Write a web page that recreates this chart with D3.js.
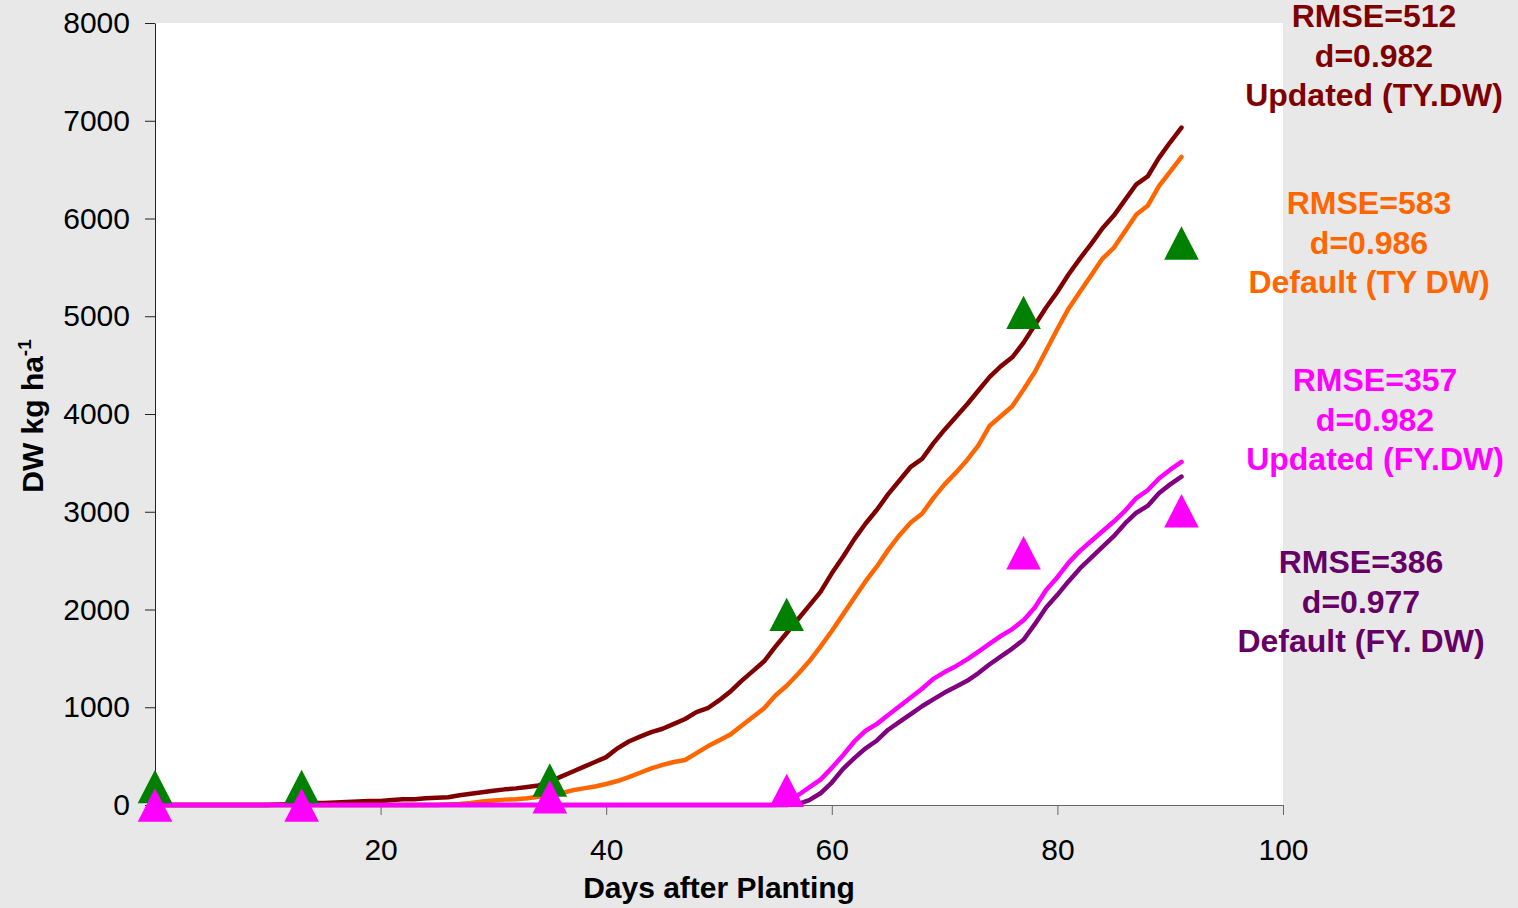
<!DOCTYPE html>
<html>
<head>
  <style>
  body {
    margin: 0;
    background: #e8e8e8;
    font-family: "Liberation Sans", Arial, sans-serif;
  }
  .axis text {
    font-size: 30px;
    fill: #000;
  }
  .title {
    font-size: 30px;
    font-weight: bold;
  }
  .note text {
    font-size: 32px;
    font-weight: bold;
    text-anchor: middle;
  }
  </style>
</head>
<body>
  <div id="chart"></div>
  <script src="https://d3js.org/d3.v7.min.js"></script>
  <script>
  // simulated dry weight, one value per day (day 0 .. 91)
  var days = d3.range(0, 92);

  var updatedTY = [0,0,0,0,0,0,0,0,0,0, 0,5,10,15,20,20,25,30,35,40,
    40,50,60,60,70,75,80,100,115,130, 145,160,170,185,200,240,290,340,390,440,
    490,580,650,700,745,780,830,880,950,990, 1070,1160,1270,1370,1470,1620,1760,1900,2040,2180,
    2370,2540,2720,2880,3020,3180,3320,3460,3540,3700, 3840,3970,4100,4240,4380,4490,4580,4730,4910,5090,
    5250,5430,5590,5740,5900,6030,6190,6350,6430,6620, 6780,6930];

  var defaultTY = [0,0,0,0,0,0,0,0,0,0, 0,0,0,0,0,0,0,0,0,0,
    0,0,0,0,0,0,5,10,20,35, 45,55,60,70,85,100,120,150,170,190,
    215,245,285,330,375,410,440,460,530,600, 660,720,810,900,990,1120,1220,1340,1470,1620,
    1780,1950,2120,2290,2440,2610,2760,2890,2980,3140, 3280,3400,3530,3680,3880,3980,4080,4250,4430,4650,
    4870,5080,5250,5420,5590,5700,5870,6040,6130,6330, 6480,6630];

  var updatedFY = [0,0,0,0,0,0,0,0,0,0, 0,0,0,0,0,0,0,0,0,0,
    0,0,0,0,0,0,0,0,0,0, 0,0,0,0,0,0,0,0,0,0,
    0,0,0,0,0,0,0,0,0,0, 0,0,0,0,0,0,20,100,180,260,
    380,510,650,760,830,920,1010,1100,1190,1290, 1360,1420,1490,1570,1650,1730,1800,1890,2020,2200,
    2330,2480,2600,2700,2800,2900,3010,3140,3220,3340, 3430,3510];

  var defaultFY = [0,0,0,0,0,0,0,0,0,0, 0,0,0,0,0,0,0,0,0,0,
    0,0,0,0,0,0,0,0,0,0, 0,0,0,0,0,0,0,0,0,0,
    0,0,0,0,0,0,0,0,0,0, 0,0,0,0,0,0,0,10,50,120,
    230,370,480,580,660,770,850,930,1010,1080, 1150,1210,1270,1350,1440,1520,1600,1690,1850,2020,
    2150,2290,2420,2530,2640,2750,2880,2990,3060,3190, 3280,3360];

  // observations
  var obsDays = [0, 13, 35, 56, 77, 91];
  var obsTY = [190, 190, 255, 1950, 5040, 5750];
  var obsFY = [0, 0, 85, 150, 2580, 3010];

  var yTicks = [0, 1000, 2000, 3000, 4000, 5000, 6000, 7000, 8000];
  var xTicks = [20, 40, 60, 80, 100];

  var notes = [
    {lines: ["RMSE=512", "d=0.982", "Updated (TY.DW)"], color: "#800000", cx: 1374, y: 27},
    {lines: ["RMSE=583", "d=0.986", "Default (TY DW)"], color: "#ff6600", cx: 1369, y: 214},
    {lines: ["RMSE=357", "d=0.982", "Updated (FY.DW)"], color: "#ff00ff", cx: 1375, y: 391},
    {lines: ["RMSE=386", "d=0.977", "Default (FY. DW)"], color: "#660066", cx: 1361, y: 573}
  ];

  var W = 1518, H = 908;
  var margin = {top: 23, right: 235, bottom: 103, left: 155};

  var svg = d3.select("#chart").append("svg")
      .attr("width", W)
      .attr("height", H);

  var x = d3.scaleLinear().domain([0, 100]).range([margin.left, W - margin.right]);
  var y = d3.scaleLinear().domain([0, 8000]).range([H - margin.bottom, margin.top]);

  svg.append("rect")
      .attr("x", x(0))
      .attr("y", y(8000))
      .attr("width", x(100) - x(0))
      .attr("height", y(0) - y(8000))
      .attr("fill", "#fff");

  var yAxis = svg.append("g")
      .attr("class", "axis")
      .attr("transform", "translate(" + x(0) + ",0)")
      .call(d3.axisLeft(y).tickValues(yTicks).tickFormat(d3.format("d"))
        .tickSize(10).tickSizeOuter(0).tickPadding(15));
  yAxis.selectAll("line, path").attr("stroke", "#222");

  var xAxis = svg.append("g")
      .attr("class", "axis")
      .attr("transform", "translate(0," + y(0) + ")")
      .call(d3.axisBottom(x).tickValues(xTicks).tickFormat(d3.format("d"))
        .tickSize(10).tickSizeOuter(0).tickPadding(24));
  xAxis.selectAll("line, path").attr("stroke", "#666");

  var line = d3.line()
      .x(function(d, i){ return x(days[i]); })
      .y(function(d){ return y(d); });

  var series = [
    {values: updatedTY, color: "#800000"},
    {values: defaultTY, color: "#ff6600"},
    {values: defaultFY, color: "#800080"},
    {values: updatedFY, color: "#ff00ff"}
  ];

  svg.selectAll("path.series")
      .data(series)
    .enter().append("path")
      .attr("class", "series")
      .attr("d", function(d){ return line(d.values); })
      .attr("fill", "none")
      .attr("stroke", function(d){ return d.color; })
      .attr("stroke-width", 4.5)
      .attr("stroke-linejoin", "round")
      .attr("stroke-linecap", "round");

  // triangle centred on its box, like the spreadsheet marker
  var tri = "M0,-16.7L17.3,16.7L-17.3,16.7Z";

  function markers(vals, color){
    svg.append("g").selectAll("path")
        .data(vals)
      .enter().append("path")
        .attr("d", tri)
        .attr("fill", color)
        .attr("transform", function(d, i){ return "translate(" + x(obsDays[i]) + "," + y(d) + ")"; });
  }
  markers(obsTY, "#008000");
  markers(obsFY, "#ff00ff");

  // axis titles
  svg.append("text")
      .attr("class", "title")
      .attr("x", (x(0) + x(100)) / 2)
      .attr("y", 898)
      .attr("text-anchor", "middle")
      .text("Days after Planting");

  var yt = svg.append("text")
      .attr("class", "title")
      .attr("transform", "translate(43," + ((y(0) + y(8000)) / 2 + 2) + ") rotate(-90)")
      .attr("text-anchor", "middle");
  yt.append("tspan").text("DW kg ha");
  yt.append("tspan").attr("dy", -12).style("font-size", "19px").text("-1");

  // fit statistics
  notes.forEach(function(n){
    var g = svg.append("g").attr("class", "note");
    g.selectAll("text")
        .data(n.lines)
      .enter().append("text")
        .attr("x", n.cx)
        .attr("y", function(d, i){ return n.y + i * 39.5; })
        .attr("fill", n.color)
        .text(function(d){ return d; });
  });
  </script>
</body>
</html>
